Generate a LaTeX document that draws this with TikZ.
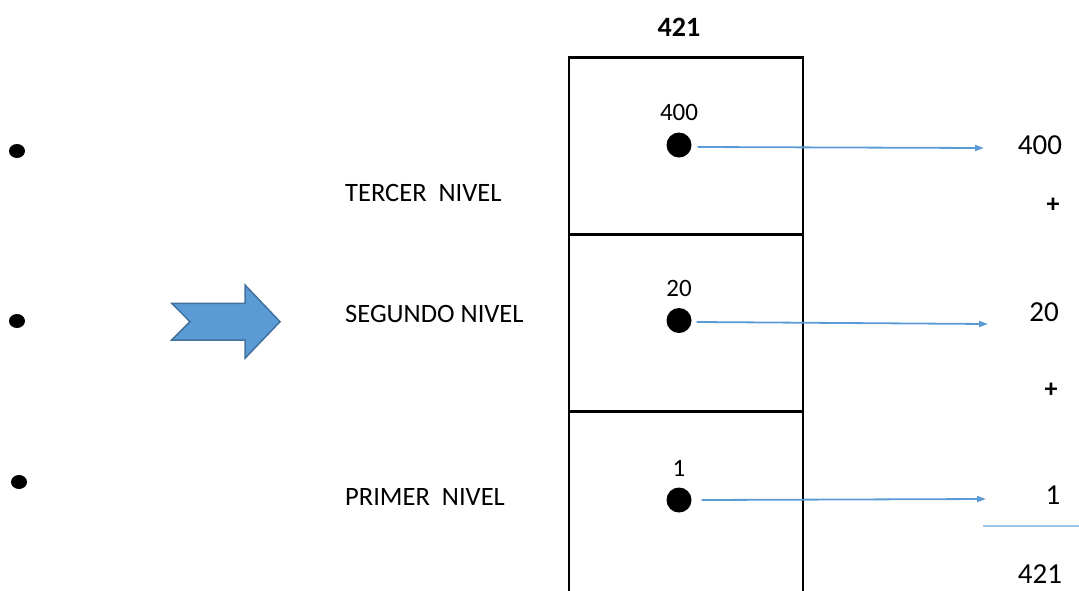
\documentclass[tikz,border=0pt]{standalone}
\usepackage{fontspec}
\setmainfont{Carlito}
\usetikzlibrary{shapes.geometric, arrows.meta, positioning}
\definecolor{ink}{HTML}{000000}
\definecolor{linkblue}{HTML}{5B9BD5}
\definecolor{arrowfill}{HTML}{5B9BD5}
\definecolor{arrowedge}{HTML}{41719C}
\definecolor{sumrule}{HTML}{9DC3E6}
\tikzset{
  cell/.style     = {rectangle, draw=ink, line width=2.6pt, minimum width=234pt,
                      minimum height=177pt, inner sep=0pt, outer sep=0pt},
  dot/.style      = {circle, fill=ink, minimum size=25pt, inner sep=0pt},
  bullet/.style   = {ellipse, fill=ink, minimum width=16pt, minimum height=14pt, inner sep=0pt},
  digit/.style    = {inner sep=0pt, font=\fontsize{25}{30}\selectfont},
  level/.style    = {inner sep=0pt, anchor=west, font=\fontsize{26.5}{31}\selectfont},
  total/.style    = {inner sep=0pt, font=\fontsize{29}{34}\selectfont},
  plus/.style     = {inner sep=0pt, font=\fontsize{26}{30}\selectfont\bfseries},
  link/.style     = {-{Triangle[length=9pt, width=6pt]}, line width=1.8pt, draw=linkblue},
  bigarrow/.style = {fill=arrowfill, draw=arrowedge, line width=1.5pt, line join=miter},
}

\begin{document}
\begin{tikzpicture}[x=1pt, y=-1pt]
  \useasboundingbox (0,0) rectangle (1079,590);

  % bullets on the left
  \node[bullet] (b3) at (17,151) {};
  \node[bullet] (b2) at (17,321) {};
  \node[bullet] (b1) at (19,482) {};

  % block arrow
  \draw[bigarrow] (171.7,303.3) -- (245,303.3) -- (245,285) -- (280,321.7)
    -- (245,358.3) -- (245,340) -- (171.7,340) -- (190,321.7) -- cycle;

  % level names
  \node[level] (l3) at (345,193) {TERCER\ \ NIVEL};
  \node[level] (l2) at (345,314) {SEGUNDO NIVEL};
  \node[level] (l1) at (345,497) {PRIMER\ \ NIVEL};

  % the column of cells
  \node[cell] (c3) at (686,146) {};
  \node[cell, below=0pt of c3] (c2) {};
  \node[cell, below=0pt of c2, minimum height=190pt] (c1) {};
  \node[inner sep=0pt, font=\fontsize{28}{32}\selectfont\bfseries] (top) at (679,27) {421};

  % place values
  \node[dot] (d3) at (679,145) {};
  \node[dot] (d2) at (679,320.5) {};
  \node[dot] (d1) at (679,500) {};
  \node[digit, above=11pt of d3] (n3) {400};
  \node[digit, above=11pt of d2] (n2) {20};
  \node[digit, above=11pt of d1] (n1) {1};

  % sum on the right
  \node[total] (v3) at (1040,145) {400};
  \node[plus] (p2) at (1053,205) {+};
  \node[total] (v2) at (1044,312.5) {20};
  \node[plus] (p1) at (1051,390) {+};
  \node[total] (v1) at (1053,495) {1};
  \node[total] (sum) at (1040,574) {421};
  \coordinate (e3) at (984,148);
  \coordinate (e2) at (988,324);
  \coordinate (e1) at (986,499);
  \coordinate (r1) at (983,526);
  \coordinate (r2) at (1079,526);

  \draw[link] (d3.east) ++(6,2) -- (e3);
  \draw[link] (d2.east) ++(5,1.5) -- (e2);
  \draw[link] (d1.east) ++(10,0) -- (e1);
  \draw[sumrule, line width=1.2pt] (r1) -- (r2);
\end{tikzpicture}
\end{document}
